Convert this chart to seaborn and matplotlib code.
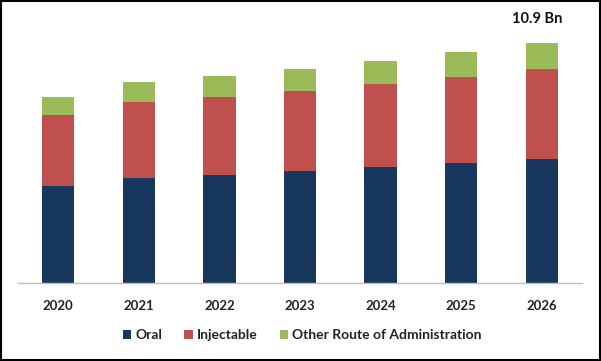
import pandas as pd
import seaborn as sns
import matplotlib.pyplot as plt
from matplotlib.patches import Patch, Rectangle

years = ['2020', '2021', '2022', '2023', '2024', '2025', '2026']
oral = [4.41, 4.78, 4.91, 5.09, 5.28, 5.46, 5.64]
injectable = [3.22, 3.45, 3.54, 3.63, 3.76, 3.90, 4.08]
other = [0.82, 0.92, 0.95, 1.00, 1.04, 1.13, 1.18]

series_names = ['Oral', 'Injectable', 'Other Route of Administration']
colors = ['#17375E', '#C0504D', '#9BBB59']

sns.set_theme(style='white')
plt.rcParams['font.family'] = ['Lato', 'DejaVu Sans']

df = pd.DataFrame({'year': years, 'Oral': oral, 'Injectable': injectable, 'Other': other})
df['oral_top'] = df['Oral']
df['inj_top'] = df['Oral'] + df['Injectable']
df['total'] = df['inj_top'] + df['Other']

fig = plt.figure(figsize=(6.01, 3.61), dpi=100)
ax = fig.add_axes([18 / 601, 0.2152, 564 / 601, 0.7327])

# stacked look: draw cumulative totals back to front
for col, color in zip(['total', 'inj_top', 'oral_top'], colors[::-1]):
    sns.barplot(data=df, x='year', y=col, color=color, width=0.4,
                saturation=1, ax=ax, linewidth=0)

ax.set_xlim(-0.5, 6.5)
ax.set_ylim(0, 12)
ax.set_xlabel('')
ax.set_ylabel('')
ax.set_yticks([])
ax.tick_params(axis='x', length=0, pad=12)
for lbl in ax.get_xticklabels():
    lbl.set_fontweight('bold')
    lbl.set_fontsize(9.5)
    lbl.set_color('#222222')
for side in ['top', 'left', 'right']:
    ax.spines[side].set_visible(False)
ax.spines['bottom'].set_color('#BFBFBF')
ax.spines['bottom'].set_linewidth(1)

ax.annotate(f"{df['total'].iloc[-1]:.1f} Bn", xy=(6, df['total'].iloc[-1]),
            xytext=(-3, 12), textcoords='offset points', ha='center', va='bottom',
            fontsize=10.5, fontweight='bold', color='#111111')

handles = [Patch(facecolor=c, edgecolor='none') for c in colors]
leg = fig.legend(handles, series_names, loc='center', bbox_to_anchor=(0.503, 0.072),
                 ncol=3, frameon=False, handlelength=0.6, handleheight=0.6,
                 handletextpad=0.3, columnspacing=1.6,
                 prop={'weight': 'bold', 'size': 10})
for t in leg.get_texts():
    t.set_color('#222222')

fig.patches.append(Rectangle((0.001, 0.002), 0.997, 0.995, transform=fig.transFigure,
                             fill=False, edgecolor='black', linewidth=1.5))

plt.savefig('out.png', dpi=100)
